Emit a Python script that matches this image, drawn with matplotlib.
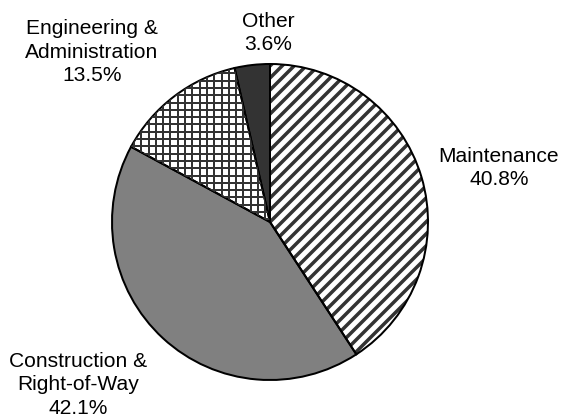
import matplotlib
matplotlib.use("Agg")
import matplotlib.pyplot as plt
import numpy as np
from matplotlib.collections import LineCollection

categories = ["Maintenance", "Construction &\nRight-of-Way", "Engineering &\nAdministration", "Other"]
shares = [40.8, 42.1, 13.5, 3.6]
face_colors = ["white", "#808080", "white", "#333333"]
hatches = ["//", None, "grid", None]
# label centres in figure pixels (x, y from top)
label_pos = [(499, 168), (78, 385), (92, 52), (268, 33)]

W, H, DPI = 564, 418, 72
plt.rcParams["font.family"] = ["Liberation Sans", "DejaVu Sans"]
fig = plt.figure(figsize=(W / DPI, H / DPI), dpi=DPI)
cx, cy, r = 270, 222, 158
ax = fig.add_axes([(cx - r) / W, (H - cy - r) / H, 2 * r / W, 2 * r / H])

wedges, _ = ax.pie(shares, colors=face_colors, startangle=90, counterclock=False,
                   wedgeprops=dict(linewidth=0, edgecolor="#333333"))
for w, h in zip(wedges, hatches):
    if h == "//":
        w.set_hatch(h)
        w.set_edgecolor("#333333")
        if hasattr(w, "set_hatch_linewidth"):
            w.set_hatch_linewidth(3.5)
    elif h == "grid":
        step = 7.3 / r
        ticks = np.arange(-1.0, 1.0 + step, step)
        segs = [[(t, -1.05), (t, 1.05)] for t in ticks] + [[(-1.05, t), (1.05, t)] for t in ticks]
        lc = LineCollection(segs, colors="#333333", linewidths=2.0, antialiased=False)
        ax.add_collection(lc)
        lc.set_clip_path(w)

# outlines
outl, _ = ax.pie(shares, colors=["none"] * len(shares), startangle=90, counterclock=False,
                 wedgeprops=dict(linewidth=2.0, edgecolor="black", fill=False))
ax.set_xlim(-1.0, 1.0)
ax.set_ylim(-1.0, 1.0)
ax.set_aspect("auto")
ax.axis("off")

for cat, s, (px, py) in zip(categories, shares, label_pos):
    fig.text(px / W, 1 - py / H, f"{cat}\n{s:.1f}%", ha="center", va="center",
             fontsize=21, linespacing=1.3, color="black")

fig.savefig("out.png", dpi=DPI, facecolor="white")
